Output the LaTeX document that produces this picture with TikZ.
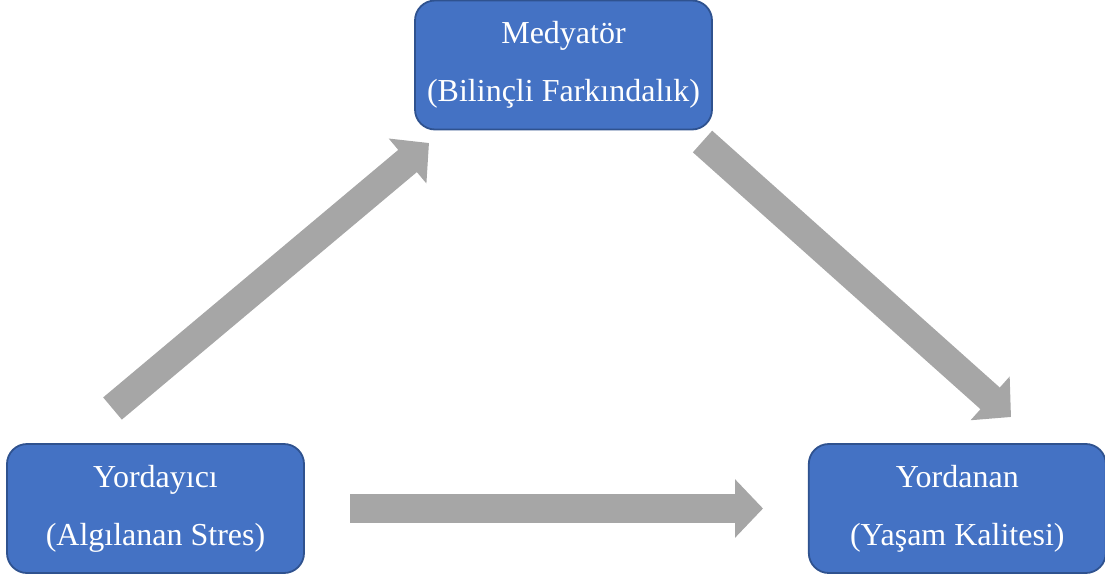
\documentclass[tikz,border=0pt]{standalone}
\usepackage{fontspec}
\setmainfont{Liberation Serif}
\usepackage{xcolor}
\usetikzlibrary{positioning, arrows.meta, calc}
\definecolor{boxBlue}{HTML}{4472C4}
\definecolor{boxEdge}{HTML}{2F528F}
\definecolor{arrGray}{HTML}{A6A6A6}

\begin{document}
\begin{tikzpicture}[
  x=1pt, y=-1pt,
  varbox/.style={rectangle, rounded corners=20pt, draw=boxEdge, line width=1.8pt,
              fill=boxBlue, text=white, minimum width=297pt, minimum height=129pt,
              align=center, inner sep=0pt, font=\fontsize{32}{58}\selectfont},
  bigarr/.style={-{Triangle[length=28pt, width=57pt]}, draw=arrGray, line width=29pt},
]
  \useasboundingbox (0,0) rectangle (1105,581);

  % ═══ The three variables: mediator on top, predictor and outcome below ═══
  \node[varbox] at (563.5, 65) (med) {Medyatör\\(Bilinçli Farkındalık)};
  \node[varbox] at (155.5, 508.5) (pred) {Yordayıcı\\(Algılanan Stres)};
  \node[varbox, right=503pt of pred] (crit) {Yordanan\\(Yaşam Kalitesi)};

  % Free ends of the block arrows (they stop short of the boxes)
  \coordinate (a_tail)  at (112.5, 408.5);
  \coordinate (a_tip)   at (429, 143);
  \coordinate (b_tail)  at (702.5, 141.5);
  \coordinate (b_tip)   at (1011, 417);
  \coordinate (c_tail)  at (350, 508.5);
  \coordinate (c_tip)   at (763, 508.5);

  % ═══ Paths a, b and the direct path c ═══
  \draw[bigarr] (a_tail) -- (a_tip);
  \draw[bigarr] (b_tail) -- (b_tip);
  \draw[bigarr] (c_tail) -- (c_tip);
\end{tikzpicture}
\end{document}
